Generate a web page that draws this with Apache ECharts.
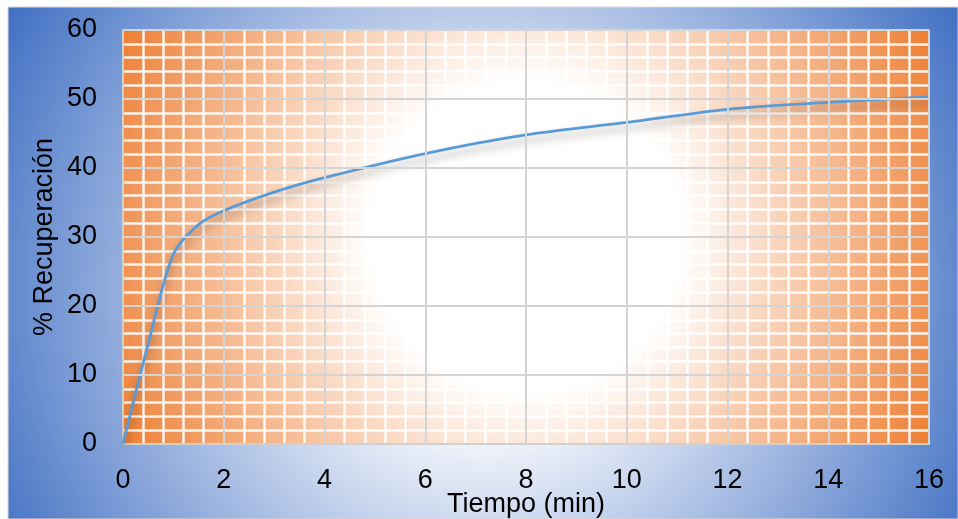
<!DOCTYPE html>
<html>
<head>
<meta charset="utf-8">
<script src="https://cdn.jsdelivr.net/npm/echarts@6/dist/echarts.min.js"></script>
<style>
  html, body { margin: 0; padding: 0; background: #fff; }
  #main { width: 958px; height: 519px; }
</style>
</head>
<body>
<div id="main"></div>
<script>
// tiempo (min) vs % recuperacion
const tiempo = [0, 0.5, 1, 1.5, 2, 3, 4, 6, 8, 10, 12, 14, 16];
const recuperacion = [0, 14.5, 27.5, 31.8, 33.8, 36.5, 38.6, 42.1, 44.8, 46.6, 48.5, 49.5, 50.3];
const xTicks = [0, 16, 2];   // min, max, interval
const yTicks = [0, 60, 10];

var myChart = echarts.init(document.getElementById('main'));
var fnt = 'Liberation Sans, Arial, sans-serif';

// major gridlines go on top of the white minor ones, so draw them as markLines
var majors = [];
for (var v = xTicks[0] + xTicks[2]; v <= xTicks[1]; v += xTicks[2]) majors.push({ xAxis: v });
for (var w = yTicks[0] + yTicks[2]; w <= yTicks[1]; w += yTicks[2]) majors.push({ yAxis: w });

var axisCommon = {
  nameMoveOverlap: false,
  axisLine: { show: true, lineStyle: { color: '#d0d0d0', width: 2 } },
  axisTick: { show: false },
  splitLine: { show: false },
  minorTick: { show: false, splitNumber: 5 },
  minorSplitLine: { show: true, lineStyle: { color: '#ffffff', width: 2.5, opacity: 0.9 } }
};

var option = {
  animation: false,
  graphic: [{
    type: 'rect',
    z: -10,
    shape: { x: 8, y: 7, width: 950, height: 512 },
    style: {
      fill: new echarts.graphic.RadialGradient(0.5, 0.55, 1.06, [
        { offset: 0, color: '#ffffff' },
        { offset: 0.22, color: '#ffffff' },
        { offset: 1, color: '#4472c4' }
      ]),
      stroke: '#d9d9d9',
      lineWidth: 1
    }
  }],
  grid: {
    left: 123, right: 29, top: 30, bottom: 75,
    outerBoundsMode: 'none',
    containLabel: false,
    show: true,
    borderWidth: 0,
    backgroundColor: new echarts.graphic.RadialGradient(0.5, 0.5, 1.1, [
      { offset: 0, color: '#ffffff' },
      { offset: 0.34, color: '#ffffff' },
      { offset: 1, color: '#ed7d31' }
    ])
  },
  xAxis: Object.assign({
    type: 'value',
    min: xTicks[0], max: xTicks[1], interval: xTicks[2],
    name: 'Tiempo (min)',
    nameLocation: 'middle',
    nameGap: 47,
    nameTextStyle: { fontFamily: fnt, fontSize: 27, color: '#000' },
    axisLabel: { fontFamily: fnt, fontSize: 27, color: '#000', margin: 23 }
  }, axisCommon),
  yAxis: Object.assign({
    type: 'value',
    min: yTicks[0], max: yTicks[1], interval: yTicks[2],
    name: '% Recuperación',
    nameLocation: 'middle',
    nameRotate: 90,
    nameGap: 65,
    nameTextStyle: { fontFamily: fnt, fontSize: 27, color: '#000' },
    axisLabel: { fontFamily: fnt, fontSize: 27, color: '#000', margin: 26 }
  }, axisCommon),
  series: [{
    type: 'line',
    z: 1,
    data: [],
    markLine: {
      silent: true,
      symbol: 'none',
      label: { show: false },
      lineStyle: { color: '#d4d4d4', width: 2, type: 'solid' },
      data: majors
    }
  }, {
    type: 'line',
    z: 3,
    data: tiempo.map((t, i) => [t, recuperacion[i]]),
    smooth: 0.3,
    symbol: 'none',
    lineStyle: {
      color: '#5b9bd5',
      width: 2.8,
      shadowColor: 'rgba(0,0,0,0.35)',
      shadowBlur: 8,
      shadowOffsetY: 6
    }
  }]
};
option && myChart.setOption(option);
</script>
</body>
</html>
